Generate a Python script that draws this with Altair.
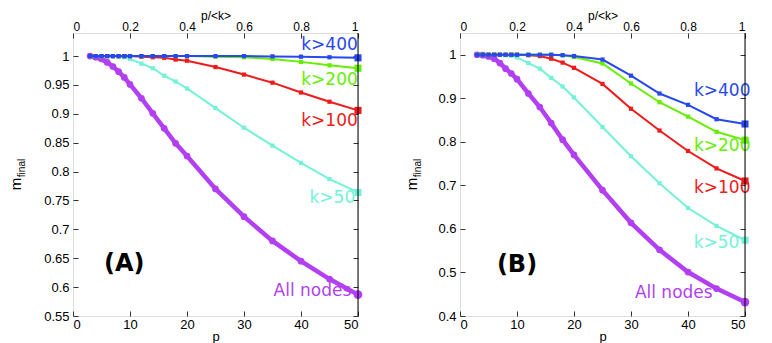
import altair as alt
import pandas as pd

# ---------------- data ----------------
p_values = [3, 4, 5, 6, 7, 8, 9, 10, 12, 14, 16, 18, 20, 25, 30, 35, 40, 45, 50]
series_names = ["All nodes", "k>50", "k>100", "k>200", "k>400"]
series_colors = ["#b23ff2", "#74f2d8", "#f01a1a", "#66ee00", "#2748f0"]

# Panel A
a_all = [1.0, 0.998, 0.995, 0.989, 0.982, 0.973, 0.963, 0.951, 0.927, 0.901, 0.875, 0.849, 0.827,
         0.770, 0.722, 0.680, 0.645, 0.614, 0.587]
a_k50 = [1.0, 1.0, 1.0, 1.0, 1.0, 0.999, 0.998, 0.995, 0.987, 0.979, 0.966, 0.956, 0.944,
         0.910, 0.876, 0.845, 0.815, 0.787, 0.764]
a_k100 = [1.0, 1.0, 1.0, 1.0, 1.0, 1.0, 1.0, 1.0, 0.999, 0.998, 0.997, 0.994, 0.992,
          0.981, 0.968, 0.954, 0.937, 0.921, 0.906]
a_k200 = [1.0, 1.0, 1.0, 1.0, 1.0, 1.0, 1.0, 1.0, 1.0, 1.0, 1.0, 1.0, 1.0,
          0.999, 0.998, 0.995, 0.990, 0.984, 0.979]
a_k400 = [1.0, 1.0, 1.0, 1.0, 1.0, 1.0, 1.0, 1.0, 1.0, 1.0, 1.0, 1.0, 1.0,
          1.0, 1.0, 0.9995, 0.999, 0.998, 0.997]

# Panel B
b_all = [1.0, 0.999, 0.996, 0.991, 0.981, 0.968, 0.957, 0.944, 0.911, 0.880, 0.843, 0.805, 0.770,
         0.689, 0.614, 0.552, 0.501, 0.463, 0.432]
b_k50 = [1.0, 1.0, 1.0, 1.0, 1.0, 0.999, 0.998, 0.994, 0.981, 0.968, 0.947, 0.927, 0.902,
         0.834, 0.767, 0.705, 0.648, 0.607, 0.574]
b_k100 = [1.0, 1.0, 1.0, 1.0, 1.0, 1.0, 1.0, 1.0, 0.999, 0.997, 0.991, 0.982, 0.970,
          0.933, 0.876, 0.826, 0.779, 0.739, 0.710]
b_k200 = [1.0, 1.0, 1.0, 1.0, 1.0, 1.0, 1.0, 1.0, 1.0, 1.0, 1.0, 0.999, 0.995,
          0.980, 0.934, 0.891, 0.858, 0.823, 0.804]
b_k400 = [1.0, 1.0, 1.0, 1.0, 1.0, 1.0, 1.0, 1.0, 1.0, 1.0, 1.0, 0.999, 0.997,
          0.989, 0.952, 0.911, 0.885, 0.852, 0.841]

x_ticks = [0, 10, 20, 30, 40, 50]
a_yticks = [0.55, 0.6, 0.65, 0.7, 0.75, 0.8, 0.85, 0.9, 0.95, 1.0]
b_yticks = [0.4, 0.5, 0.6, 0.7, 0.8, 0.9, 1.0]
a_ydomain = [0.55, 1.04]
b_ydomain = [0.4, 1.05]

# series label positions (order of series_names)
a_label_p = [42.0, 45.5, 45.0, 45.0, 45.0]
a_label_m = [0.594, 0.755, 0.887, 0.959, 1.019]
b_label_p = [37.5, 45.0, 46.0, 46.0, 46.0]
b_label_m = [0.453, 0.567, 0.695, 0.791, 0.916]

FONT = "Liberation Sans"
LFONT = "DejaVu Sans"


def make_panel(vals_list, ydom, yticks, lab_p, lab_m, letter, letter_p, letter_m,
               width, height, m_x, fin_x):
    rows = []
    for name, vals in zip(series_names, vals_list):
        for p, v in zip(p_values, vals):
            rows.append({"series": name, "p": p, "m": v})
    df = pd.DataFrame(rows)
    lab = pd.DataFrame({"series": series_names, "p": lab_p, "m": lab_m})

    xs = alt.Scale(domain=[0, 50], nice=False, zero=False)
    ys = alt.Scale(domain=ydom, nice=False, zero=False)
    cs = alt.Scale(domain=series_names, range=series_colors)

    common = dict(tickSize=5, offset=-5, domain=False, grid=False, tickColor="#333",
                  labelFont=FONT, labelColor="#000",
                  titleFont=FONT, titleFontWeight="normal", titleColor="#000")

    x_bottom = alt.X("p:Q", scale=xs, axis=alt.Axis(orient="bottom", values=x_ticks, format="d",
                                                     title="p", labelPadding=2, titlePadding=-1,
                                                     labelFontSize=13, titleFontSize=13, **common))
    y_left = alt.Y("m:Q", scale=ys, axis=alt.Axis(orient="left", values=yticks, format="~g",
                                                   title=None, labelPadding=4, labelFontSize=13,
                                                   **common))
    x_top = alt.X("p:Q", scale=xs, axis=alt.Axis(orient="top", values=x_ticks,
                                                  labelExpr="format(datum.value/50, '~g')",
                                                  title="p/<k>", labelPadding=0, titlePadding=-2,
                                                  labelFontSize=12, titleFontSize=12, **common))
    y_right = alt.Y("m:Q", scale=ys, axis=alt.Axis(orient="right", values=yticks, labels=False,
                                                    title=None, **common))
    x_n = alt.X("p:Q", scale=xs, axis=None)
    y_n = alt.Y("m:Q", scale=ys, axis=None)
    col = alt.Color("series:N", scale=cs, legend=None)

    layers = []
    base = alt.Chart(df)
    # axes carrier (invisible)
    layers.append(base.mark_point(opacity=0).encode(x=x_bottom, y=y_left))
    for name in series_names:
        sub = base.transform_filter(alt.datum.series == name)
        if name == "All nodes":
            layers.append(sub.mark_line(strokeWidth=4.5).encode(x=x_n, y=y_n, color=col))
            layers.append(sub.mark_point(shape="circle", filled=True, size=45, opacity=1)
                          .encode(x=x_n, y=y_n, color=col))
            layers.append(sub.transform_filter(alt.datum.p == 50)
                          .mark_point(shape="circle", filled=True, size=75, opacity=1)
                          .encode(x=x_n, y=y_n, color=col))
        else:
            layers.append(sub.mark_line(strokeWidth=2).encode(x=x_n, y=y_n, color=col))
            layers.append(sub.mark_point(shape="square", filled=True, size=18, opacity=1)
                          .encode(x=x_n, y=y_n, color=col))
            layers.append(sub.transform_filter(alt.datum.p == 50)
                          .mark_point(shape="square", filled=True, size=50, opacity=1)
                          .encode(x=x_n, y=y_n, color=col))

    # series labels, carrying top/right axes
    layers.append(alt.Chart(lab).mark_text(font=LFONT, fontSize=17, align="center", baseline="middle")
                  .encode(x=x_top, y=y_right, text="series:N", color=col))
    # panel letter
    let_df = pd.DataFrame({"t": [letter], "p": [letter_p], "m": [letter_m]})
    layers.append(alt.Chart(let_df).mark_text(font=LFONT, fontSize=24, fontWeight="bold",
                                              align="center", baseline="middle", color="#000")
                  .encode(x=x_n, y=y_n, text="t:N"))
    # y-axis title m_final (m with subscript)
    layers.append(alt.Chart(pd.DataFrame({"t": ["m"]})).mark_text(
        font=FONT, fontSize=15, angle=270, align="center", baseline="middle", color="#000")
        .encode(x=alt.value(m_x), y=alt.value(151), text="t:N"))
    layers.append(alt.Chart(pd.DataFrame({"t": ["final"]})).mark_text(
        font=FONT, fontSize=10, angle=270, align="center", baseline="middle", color="#000")
        .encode(x=alt.value(fin_x), y=alt.value(135), text="t:N"))
    # black right frame edge
    layers.append(alt.Chart(pd.DataFrame({"t": [0]})).mark_rule(color="#000", strokeWidth=1)
                  .encode(x=alt.value(width), y=alt.value(0), y2=alt.value(height)))

    return alt.layer(*layers).resolve_axis(x="independent", y="independent").properties(
        width=width, height=height)


panel_a = make_panel([a_all, a_k50, a_k100, a_k200, a_k400], a_ydomain, a_yticks,
                     a_label_p, a_label_m, "(A)", 9, 0.640, 285, 283, -57, -51)
panel_b = make_panel([b_all, b_k50, b_k100, b_k200, b_k400], b_ydomain, b_yticks,
                     b_label_p, b_label_m, "(B)", 10, 0.518, 285, 283, -48, -42)

chart = alt.hconcat(panel_a, panel_b, spacing=36).properties(padding=0).configure_view(
    stroke="#777", strokeWidth=1).configure(background="white")

chart.save("out.html", embed_options={"renderer": "svg", "actions": False})
